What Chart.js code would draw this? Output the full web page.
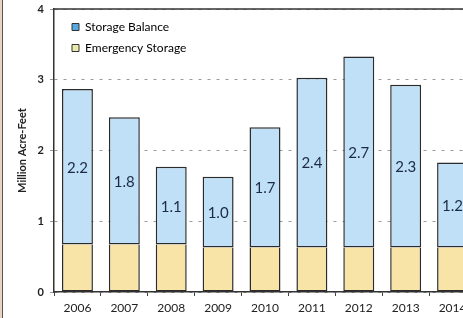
<!DOCTYPE html>
<html>
<head>
<meta charset="utf-8">
<script src="https://cdn.jsdelivr.net/npm/chart.js@4/dist/chart.umd.min.js"></script>
<style>
  html, body { margin: 0; padding: 0; background: #ffffff; overflow: hidden; }
  body { width: 463px; height: 318px; position: relative; }
  .frame { position: absolute; left: 0; top: 0; width: 2px; height: 318px; background: #ecd2c4; }
  .frame-line { position: absolute; left: 2px; top: 0; width: 1px; height: 318px; background: #555; }
  #wrap { position: absolute; left: 0; top: 0; width: 478px; height: 318px; }
</style>
</head>
<body>
<div id="wrap"><canvas id="reservoirChart" width="478" height="318"></canvas></div>
<div class="frame"></div>
<div class="frame-line"></div>
<script>
// Dados do gráfico
const years = ['2006', '2007', '2008', '2009', '2010', '2011', '2012', '2013', '2014'];
const emergencyStorage = [0.67, 0.67, 0.67, 0.63, 0.63, 0.63, 0.63, 0.63, 0.63];
const storageBalance = [2.2, 1.8, 1.1, 1.0, 1.7, 2.4, 2.7, 2.3, 1.2];
const yTicks = [0, 1, 2, 3, 4];

const fontName = 'Lato, "Open Sans", sans-serif';

// Rótulos dentro das barras azuis
const barLabels = {
    id: 'barLabels',
    afterDatasetsDraw(chart) {
        const ctx = chart.ctx;
        const meta = chart.getDatasetMeta(1);
        ctx.save();
        ctx.font = '15px ' + fontName;
        ctx.fillStyle = '#1c2a44';
        ctx.textAlign = 'center';
        ctx.textBaseline = 'middle';
        meta.data.forEach((bar, i) => {
            const mid = (bar.y + bar.base) / 2;
            ctx.fillText(storageBalance[i].toFixed(1), bar.x, mid + 1);
        });
        ctx.restore();
    }
};

// Linha superior do gráfico e ajuste da legenda
const topBorder = {
    id: 'topBorder',
    afterLayout(chart) {
        if (chart.legend) {
            chart.legend.left += 9;
            chart.legend.right += 9;
            chart.legend.top += 12;
            chart.legend.bottom += 12;
        }
    },
    afterDraw(chart) {
        const ctx = chart.ctx;
        const y = chart.scales.y.getPixelForValue(4);
        ctx.save();
        ctx.strokeStyle = '#333';
        ctx.lineWidth = 1.5;
        ctx.beginPath();
        ctx.moveTo(chart.chartArea.left, y);
        ctx.lineTo(chart.chartArea.right, y);
        ctx.stroke();
        ctx.restore();
    }
};

const ctx = document.getElementById('reservoirChart').getContext('2d');
new Chart(ctx, {
    type: 'bar',
    data: {
        labels: years,
        datasets: [{
            label: 'Emergency Storage',
            data: emergencyStorage,
            backgroundColor: '#f9e4a8',
            borderColor: '#2b2b2b',
            borderWidth: { top: 0, left: 1.5, right: 1.5, bottom: 1.5 },
            borderSkipped: false,
            barPercentage: 0.66,
            categoryPercentage: 1
        }, {
            label: 'Storage Balance',
            data: storageBalance,
            backgroundColor: '#bfe0f7',
            borderColor: '#2b2b2b',
            borderWidth: 1.5,
            borderSkipped: false,
            barPercentage: 0.66,
            categoryPercentage: 1
        }]
    },
    options: {
        responsive: false,
        animation: false,
        layout: { padding: { left: 0, right: 2, top: 9, bottom: 0 } },
        plugins: {
            tooltip: { enabled: false },
            legend: {
                position: 'chartArea',
                align: 'start',
                reverse: true,
                labels: {
                    boxWidth: 7,
                    boxHeight: 7,
                    padding: 9,
                    color: '#222',
                    font: { family: fontName, size: 12 },
                    generateLabels(chart) {
                        const swatches = ['#e8eca8', '#55a8e0'];
                        return chart.data.datasets.map((ds, i) => ({
                            text: ds.label,
                            fillStyle: swatches[i],
                            strokeStyle: '#333',
                            lineWidth: 1,
                            datasetIndex: i
                        }));
                    }
                }
            }
        },
        scales: {
            x: {
                stacked: true,
                afterFit(scale) {
                    scale.height = 26;
                },
                grid: {
                    offset: true,
                    drawOnChartArea: false,
                    drawTicks: true,
                    tickLength: 4,
                    color: '#444'
                },
                border: { color: '#333', width: 1.5 },
                ticks: {
                    color: '#222',
                    padding: 5,
                    font: { family: fontName, size: 12 }
                }
            },
            y: {
                stacked: true,
                min: 0,
                max: 4,
                afterBuildTicks(scale) {
                    scale.ticks = yTicks.map(v => ({ value: v }));
                },
                afterFit(scale) {
                    scale.width = 54;
                    scale.paddingTop = 0;
                    scale.paddingBottom = 0;
                },
                grid: {
                    color: '#9a9a9a',
                    tickLength: 4,
                    lineWidth: 1
                },
                border: { color: '#333', width: 1.5, dash: [3, 6] },
                ticks: {
                    color: '#222',
                    padding: 6,
                    font: { family: fontName, size: 11, weight: 'bold' }
                },
                title: {
                    display: true,
                    text: 'Million Acre-Feet',
                    color: '#222',
                    padding: { top: 16, bottom: 0 },
                    font: { family: fontName, size: 11, weight: 'bold' }
                }
            }
        }
    },
    plugins: [barLabels, topBorder]
});
</script>
</body>
</html>
